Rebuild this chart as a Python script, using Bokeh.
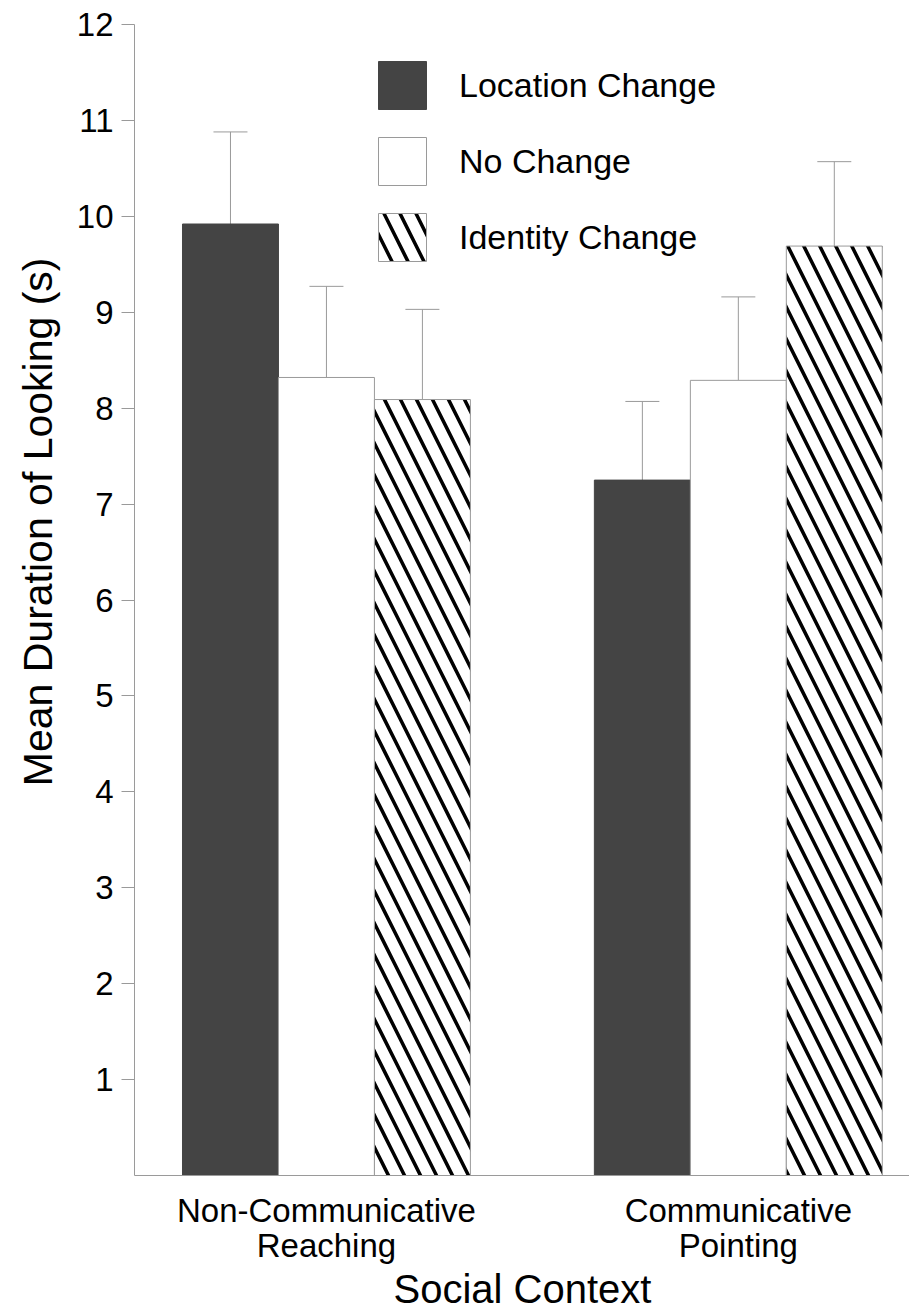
from bokeh.plotting import figure
from bokeh.models import (ColumnDataSource, FixedTicker, Legend, LegendItem,
                          Whisker, TeeHead, Title)
from bokeh.embed import file_html
from bokeh.resources import INLINE

# ---------------- data ----------------
contexts = ["Non-Communicative\nReaching", "Communicative\nPointing"]
context_pos = [1, 2]
conditions = ["Location Change", "No Change", "Identity Change"]
location_change = [9.92, 7.25]
no_change = [8.32, 8.29]
identity_change = [8.09, 9.69]
location_change_se = [0.96, 0.82]
no_change_se = [0.95, 0.87]
identity_change_se = [0.94, 0.88]
y_ticks = list(range(1, 13))

FONT = "Liberation Sans"
GRAY = "#9a9a9a"
DARK = "#444444"
BAR_W = 0.233

src = ColumnDataSource(dict(
    x_lc=[c - BAR_W for c in context_pos],
    x_nc=list(context_pos),
    x_ic=[c + BAR_W for c in context_pos],
    lc=location_change,
    nc=no_change,
    ic=identity_change,
    lc_up=[v + e for v, e in zip(location_change, location_change_se)],
    nc_up=[v + e for v, e in zip(no_change, no_change_se)],
    ic_up=[v + e for v, e in zip(identity_change, identity_change_se)],
))

p = figure(frame_width=776, frame_height=1151,
           x_range=(0.534, 2.418), y_range=(0, 12),
           output_backend="svg", toolbar_location=None,
           min_border_left=133, min_border_right=0,
           min_border_top=24, min_border_bottom=134)
p.xgrid.visible = False
p.ygrid.visible = False
p.outline_line_color = None
p.background_fill_color = "white"

# y axis
p.yaxis.ticker = FixedTicker(ticks=y_ticks)
p.yaxis.major_tick_out = 13
p.yaxis.major_tick_in = 0
p.yaxis.minor_tick_line_color = None
p.yaxis.axis_line_color = GRAY
p.yaxis.major_tick_line_color = GRAY
p.yaxis.major_label_text_font = FONT
p.yaxis.major_label_text_font_size = "33px"
p.yaxis.major_label_text_color = "black"
p.yaxis.major_label_standoff = 8

# y axis title (placed off-centre as in the reference)
ytitle = Title(text="Mean Duration of Looking (s)", align="right", offset=233,
               text_font=FONT, text_font_size="41px", text_font_style="normal",
               text_color="black", standoff=25)
p.add_layout(ytitle, "left")

# x axis
p.xaxis.ticker = FixedTicker(ticks=context_pos)
p.xaxis.major_label_overrides = {pos: lab for pos, lab in zip(context_pos, contexts)}
p.xaxis.major_tick_line_color = None
p.xaxis.minor_tick_line_color = None
p.xaxis.axis_line_color = GRAY
p.xaxis.major_label_text_font = FONT
p.xaxis.major_label_text_font_size = "33px"
p.xaxis.major_label_text_color = "black"
p.xaxis.major_label_text_line_height = 0.95
p.xaxis.major_label_standoff = 10
p.xaxis.axis_label = "Social Context"
p.xaxis.axis_label_text_font = FONT
p.xaxis.axis_label_text_font_size = "40px"
p.xaxis.axis_label_text_font_style = "normal"
p.xaxis.axis_label_text_color = "black"
p.xaxis.axis_label_standoff = 0

# bars
r1 = p.vbar(x="x_lc", top="lc", width=BAR_W, source=src,
            fill_color=DARK, line_color=DARK, line_width=1)
r2 = p.vbar(x="x_nc", top="nc", width=BAR_W, source=src,
            fill_color="white", line_color=GRAY, line_width=1)
r3 = p.vbar(x="x_ic", top="ic", width=BAR_W, source=src,
            fill_color="white", line_color=GRAY, line_width=1,
            hatch_pattern="left_diagonal_line", hatch_color="black",
            hatch_weight=3.5, hatch_scale=32)

# error bars
for base, low, up in [("x_lc", "lc", "lc_up"), ("x_nc", "nc", "nc_up"), ("x_ic", "ic", "ic_up")]:
    w = Whisker(source=src, base=base, lower=low, upper=up,
                upper_head=TeeHead(size=34, line_color=GRAY, line_width=1),
                lower_head=None, line_color=GRAY, line_width=1)
    p.add_layout(w)

# legend
legend = Legend(items=[LegendItem(label=c, renderers=[r]) for c, r in zip(conditions, [r1, r2, r3])],
                location=(238, 908), glyph_width=60, glyph_height=60, spacing=16,
                padding=0, margin=0, label_standoff=27, label_height=60,
                border_line_color=None, background_fill_alpha=0,
                label_text_font=FONT, label_text_font_size="34px",
                label_text_color="black")
p.add_layout(legend, "center")

open("out.html", "w").write(file_html(p, INLINE))
